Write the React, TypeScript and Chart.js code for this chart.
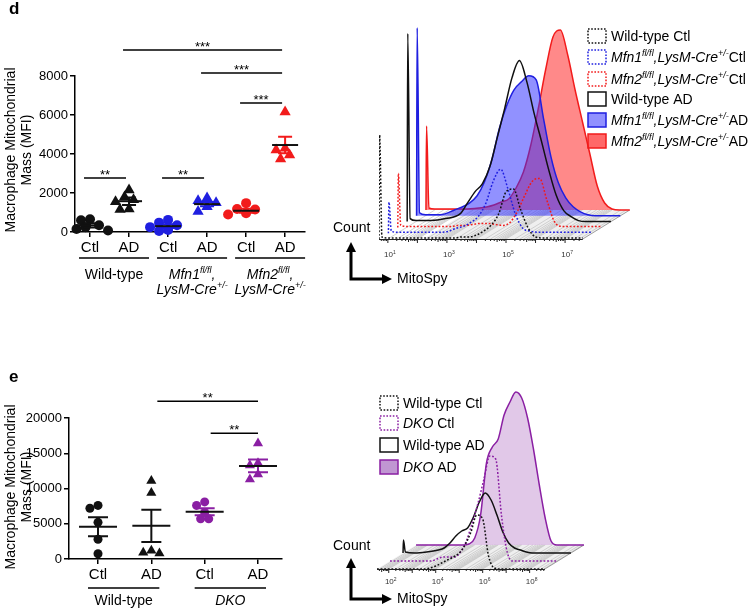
import { useEffect, useRef } from 'react';
import { Chart, registerables } from 'chart.js';
Chart.register(...registerables);

const FONT = '"Liberation Sans", Arial, Helvetica, sans-serif';
const BLACK = '#111111';
const BLUE = '#1f1fe0';
const RED = '#f21b1b';
const PURPLE = '#8a1fa3';

// ---------------- Panel d : scatter ----------------
const catsD = ['Ctl', 'AD', 'Ctl', 'AD', 'Ctl', 'AD'];
const wtCtlD = [650, 600, 350, 250, 150, 80];
const wtAdD = [2150, 1800, 1650, 1550, 1180, 1150];
const mfn1CtlD = [620, 480, 350, 250, 100, 50];
const mfn1AdD = [1750, 1600, 1500, 1300, 1050];
const mfn2CtlD = [1480, 1180, 1150, 960, 900];
const mfn2AdD = [6150, 4300, 4200, 3950, 3740];
const meanD = [340, 1580, 300, 1430, 1090, 4460];
const semD = [110, 190, 100, 110, 100, 420];
const yTicksD = [0, 2000, 4000, 6000, 8000];
const sigD: [number, number, number, string][] = [
  [1, 5, 9330, '***'],
  [3, 5, 8150, '***'],
  [4, 5, 6620, '***'],
  [0, 1, 2770, '**'],
  [2, 3, 2770, '**'],
];

// ---------------- Panel e : scatter ----------------
const catsE = ['Ctl', 'AD', 'Ctl', 'AD'];
const wtCtlE = [7600, 7200, 5200, 2800, 750];
const wtAdE = [11100, 9400, 1200, 800, 900];
const dkoCtlE = [8100, 7600, 6600, 5700, 5700];
const dkoAdE = [16400, 13600, 13300, 12000, 11300];
const meanE = [4560, 4700, 6700, 13200];
const semE = [1350, 2300, 500, 900];
const yTicksE = [0, 5000, 10000, 15000, 20000];
const sigE: [number, number, number, string][] = [
  [1, 3, 22360, '**'],
  [2, 3, 17840, '**'],
];

// ---------------- Panel d : histograms (log10 MitoSpy bins, counts in a.u.) ----------------
const binsD = [0.7, 0.72, 0.8, 1.0, 1.5, 2.0, 2.5, 2.75, 3.0, 3.25, 3.5, 3.75, 4.0, 4.25, 4.5, 4.75, 5.0, 5.25, 5.5, 5.75, 6.0, 6.25, 6.5, 6.75, 7.0, 7.25, 7.6];
const histWtCtlD = [0, 104, 2, 1, 1, 1, 1, 1, 1, 1, 2, 2, 4, 8, 14, 25, 47, 50, 29, 11, 2, 1, 1, 1, 1, 1, 1];
const histMfn1CtlD = [0, 31, 2, 1, 1, 1, 1, 2, 5, 7, 11, 17, 30, 52, 64, 44, 19, 5, 2, 1, 1, 1, 1, 1, 1, 1, 1];
const histMfn2CtlD = [0, 54, 2, 1, 1, 1, 1, 2, 2, 3, 4, 4, 3, 2, 5, 16, 32, 46, 49, 27, 6, 1, 1, 1, 1, 1, 1];
const histWtAdD = [0, 188, 3, 1, 1, 3, 8, 19, 30, 38, 55, 84, 113, 144, 161, 140, 108, 80, 51, 26, 11, 5, 1, 0, 0, 0, 0];
const histMfn1AdD = [0, 188, 3, 1, 1, 6, 13, 20, 34, 56, 87, 110, 126, 134, 140, 136, 97, 59, 33, 18, 9, 4, 1, 0, 0, 0, 0];
const histMfn2AdD = [0, 84, 2, 1, 1, 1, 2, 3, 5, 8, 11, 22, 38, 65, 101, 140, 173, 180, 155, 120, 88, 56, 24, 7, 1, 0, 0];
const decadesD = [1, 3, 5, 7];

// ---------------- Panel e : histograms ----------------
const binsE = [1.5, 1.52, 1.6, 2.0, 2.5, 3.0, 3.25, 3.5, 3.75, 4.0, 4.25, 4.5, 4.75, 5.0, 5.25, 5.5, 5.75, 6.0, 6.25, 6.5, 6.75, 7.0, 7.25, 7.5, 7.75, 8.0, 8.25, 8.65];
const histWtCtlE = [0, 0, 0, 0, 0, 0, 0, 0, 1, 3, 6, 9, 12, 16, 24, 37, 54, 50, 13, 1, 0, 0, 0, 0, 0, 0, 0, 0];
const histDkoCtlE = [0, 0, 0, 0, 0, 0, 0, 2, 4, 4, 4, 9, 20, 38, 58, 82, 105, 102, 45, 8, 0, 0, 0, 0, 0, 0, 0, 0];
const histWtAdE = [0, 13, 1, 0, 1, 3, 5, 10, 17, 22, 25, 36, 51, 60, 53, 38, 21, 10, 5, 3, 1, 0, 0, 0, 0, 0, 0, 0];
const histDkoAdE = [0, 0, 0, 0, 0, 0, 0, 0, 1, 7, 30, 82, 98, 106, 130, 143, 153, 147, 127, 96, 60, 27, 4, 0, 0, 0, 0, 0];
const decadesE = [2, 4, 6, 8];

type Seg = { t: string; it?: boolean; sup?: boolean; b?: boolean };

function segFont(s: Seg, size: number) {
  return `${s.it ? 'italic ' : ''}${s.b ? 'bold ' : ''}${s.sup ? Math.round(size * 0.64) : size}px ${FONT}`;
}
function drawSegs(ctx: CanvasRenderingContext2D, segs: Seg[], x: number, cy: number, size: number, align: 'left' | 'center' = 'left') {
  let w = 0;
  for (const s of segs) { ctx.font = segFont(s, size); w += ctx.measureText(s.t).width; }
  let cx = align === 'center' ? x - w / 2 : x;
  const base = cy + size * 0.36;
  ctx.textAlign = 'left';
  ctx.textBaseline = 'alphabetic';
  for (const s of segs) {
    ctx.font = segFont(s, size);
    ctx.fillText(s.t, cx, base + (s.sup ? -size * 0.42 : 0));
    cx += ctx.measureText(s.t).width;
  }
}

function swarm(vals: number[], pxY: number, r: number, pxX: number): number[] {
  const idx = vals.map((_, i) => i).sort((a, b) => vals[b] - vals[a]);
  const placed: [number, number][] = [];
  const off = new Array(vals.length).fill(0);
  const cands = [0, -1, 1, -2, 2, -3, 3, -4, 4];
  const stepPx = r * 0.9;
  const minD = r * 1.6;
  for (const i of idx) {
    const y = vals[i] * pxY;
    for (const c of cands) {
      const x = c * stepPx;
      if (placed.every(([px, py]) => (px - x) ** 2 + (py - y) ** 2 >= minD ** 2)) {
        placed.push([x, y]);
        off[i] = x / pxX;
        break;
      }
    }
  }
  return off;
}

interface ScatterCfg {
  cats: string[]; groups: number[][]; means: number[]; sems: number[];
  colors: string[]; shapes: string[]; yMax: number; yTicks: number[];
  xMin: number; xMax: number;
  area: { left: number; top: number; right: number; bottom: number };
  radius: number; tickFont: number; catFont: number;
  meanHalf: number; capHalf: number;
  sig: [number, number, number, string][]; sigPad: [number, number];
  groupLabels: { from: number; to: number; lines: Seg[][] }[];
  groupLineY: number; groupLabelY: number; groupExt: [number, number]; labelSize: number;
  titleLines: string[]; titleX: number[]; titleY: number;
  letter: string; letterPos: [number, number];
}

function makeScatter(canvas: HTMLCanvasElement, c: ScatterCfg) {
  const W = canvas.width, H = canvas.height;
  const chartW = c.area.right - c.area.left, chartH = c.area.bottom - c.area.top;
  const pxX = chartW / (c.xMax - c.xMin), pxY = chartH / c.yMax;
  const datasets = c.groups.map((vals, g) => {
    const off = swarm(vals, pxY, c.radius, pxX);
    return {
      data: vals.map((v, j) => ({ x: g + off[j], y: v })),
      pointStyle: c.shapes[g],
      pointRadius: c.shapes[g] === 'triangle' ? c.radius * 1.3 : c.radius,
      pointBackgroundColor: c.colors[g],
      pointBorderColor: c.colors[g],
      pointBorderWidth: 0,
      showLine: false,
      clip: false,
    };
  });
  const deco = {
    id: 'scatterDeco',
    afterDatasetsDraw(chart: any) {
      const ctx = chart.ctx as CanvasRenderingContext2D;
      const xs = chart.scales.x, ys = chart.scales.y;
      ctx.save();
      ctx.lineWidth = 2;
      c.means.forEach((m, g) => {
        const cx = xs.getPixelForValue(g);
        const my = ys.getPixelForValue(m);
        const t = ys.getPixelForValue(m + c.sems[g]);
        const b = ys.getPixelForValue(m - c.sems[g]);
        ctx.strokeStyle = c.colors[g];
        ctx.beginPath();
        ctx.moveTo(cx, t); ctx.lineTo(cx, b);
        ctx.moveTo(cx - c.capHalf, t); ctx.lineTo(cx + c.capHalf, t);
        ctx.moveTo(cx - c.capHalf, b); ctx.lineTo(cx + c.capHalf, b);
        ctx.stroke();
        ctx.strokeStyle = BLACK;
        ctx.beginPath();
        ctx.moveTo(cx - c.meanHalf, my); ctx.lineTo(cx + c.meanHalf, my);
        ctx.stroke();
      });
      ctx.restore();
    },
    afterDraw(chart: any) {
      const ctx = chart.ctx as CanvasRenderingContext2D;
      const xs = chart.scales.x, ys = chart.scales.y;
      ctx.save();
      ctx.fillStyle = '#000';
      ctx.strokeStyle = '#000';
      ctx.lineWidth = 1.5;
      c.sig.forEach(([a, b, v, lab]) => {
        const x1 = xs.getPixelForValue(a) + c.sigPad[0];
        const x2 = xs.getPixelForValue(b) + c.sigPad[1];
        const y = ys.getPixelForValue(v);
        ctx.beginPath(); ctx.moveTo(x1, y); ctx.lineTo(x2, y); ctx.stroke();
        ctx.font = `13px ${FONT}`;
        ctx.textAlign = 'center'; ctx.textBaseline = 'alphabetic';
        ctx.fillText(lab, (x1 + x2) / 2, y + 1);
      });
      c.groupLabels.forEach((gl) => {
        const x1 = xs.getPixelForValue(gl.from) + c.groupExt[0];
        const x2 = xs.getPixelForValue(gl.to) + c.groupExt[1];
        ctx.lineWidth = 1.5;
        ctx.beginPath(); ctx.moveTo(x1, c.groupLineY); ctx.lineTo(x2, c.groupLineY); ctx.stroke();
        gl.lines.forEach((ln, k) => drawSegs(ctx, ln, (x1 + x2) / 2, c.groupLabelY + k * 15, c.labelSize, 'center'));
      });
      c.titleLines.forEach((t, k) => {
        ctx.save();
        ctx.translate(c.titleX[k], c.titleY);
        ctx.rotate(-Math.PI / 2);
        ctx.font = `14px ${FONT}`;
        ctx.textAlign = 'center'; ctx.textBaseline = 'middle';
        ctx.fillText(t, 0, 0);
        ctx.restore();
      });
      ctx.font = `bold 17px ${FONT}`;
      ctx.textAlign = 'left'; ctx.textBaseline = 'middle';
      ctx.fillText(c.letter, c.letterPos[0], c.letterPos[1]);
      ctx.restore();
    },
  };
  return new Chart(canvas, {
    type: 'scatter',
    data: { datasets: datasets as any },
    options: {
      animation: false,
      responsive: false,
      devicePixelRatio: 1,
      layout: { padding: { left: 0, top: c.area.top, right: W - c.area.right, bottom: 0 } },
      plugins: { legend: { display: false }, tooltip: { enabled: false } },
      scales: {
        x: {
          type: 'linear', min: c.xMin, max: c.xMax,
          afterBuildTicks: (s: any) => { s.ticks = c.cats.map((_, i) => ({ value: i })); },
          afterFit: (s: any) => { s.height = H - c.area.bottom; },
          ticks: { autoSkip: false, maxRotation: 0, padding: 2, color: '#000', font: { family: FONT, size: c.catFont }, callback: (_v: any, i: number) => c.cats[i] },
          grid: { drawOnChartArea: false, drawTicks: true, tickLength: 5, color: '#000', lineWidth: 1.5 },
          border: { display: true, color: '#000', width: 1.5 },
        },
        y: {
          type: 'linear', min: 0, max: c.yMax,
          afterBuildTicks: (s: any) => { s.ticks = c.yTicks.map((v) => ({ value: v })); },
          afterFit: (s: any) => { s.width = c.area.left; },
          ticks: { padding: 2, color: '#000', font: { family: FONT, size: c.tickFont }, callback: (v: any) => String(v) },
          grid: { drawOnChartArea: false, drawTicks: true, tickLength: 5, color: '#000', lineWidth: 1.5 },
          border: { display: true, color: '#000', width: 1.5 },
        },
      },
    } as any,
    plugins: [deco],
  });
}

interface HistSeries { h: number[]; color: string; dash?: boolean; fill?: string; legendFill?: string; label: Seg[] }
interface HistCfg {
  bins: number[]; series: HistSeries[]; dx: number; dy: number;
  xMin: number; xMax: number; yMax: number;
  pad: { left: number; right: number; top: number; bottom: number };
  axisStart: number; axisEnd: number; floorStart: number; stripeStart: number;
  decades: number[]; labelDy: number;
  legendX: number; legendY: number[];
  countPos: [number, number]; corner: [number, number]; upTip: number; rightTip: number;
}

function makeHist(canvas: HTMLCanvasElement, c: HistCfg) {
  const n = c.series.length;
  const datasets = c.series.map((s, i) => ({
    data: c.bins.map((b, k) => ({ x: b + i * c.dx, y: s.h[k] + i * c.dy })),
    borderColor: s.color,
    borderWidth: 1.5,
    borderDash: s.dash ? [1.8, 1.8] : [],
    backgroundColor: s.fill || 'rgba(0,0,0,0)',
    fill: s.fill ? { value: i * c.dy } : false,
    pointRadius: 0,
    cubicInterpolationMode: 'monotone',
    order: i,
  }));
  const floor = {
    id: 'floor',
    beforeDatasetsDraw(chart: any) {
      const ctx = chart.ctx as CanvasRenderingContext2D;
      const xs = chart.scales.x, ys = chart.scales.y;
      const Bx = (n - 1) * c.dx, By = (n - 1) * c.dy;
      const P = (v: number, h: number): [number, number] => [xs.getPixelForValue(v), ys.getPixelForValue(h)];
      ctx.save();
      ctx.fillStyle = '#efefef';
      ctx.beginPath();
      const p1 = P(c.floorStart, 0), p2 = P(c.axisEnd, 0), p3 = P(c.axisEnd + Bx, By), p4 = P(c.floorStart + Bx, By);
      ctx.moveTo(...p1); ctx.lineTo(...p2); ctx.lineTo(...p3); ctx.lineTo(...p4); ctx.closePath(); ctx.fill();
      ctx.strokeStyle = '#c6c6c6';
      ctx.lineWidth = 0.8;
      for (let d = Math.floor(c.axisStart); d <= Math.ceil(c.axisEnd); d++) {
        for (let k = 1; k <= 9; k++) {
          const t = d + Math.log10(k);
          if (t < c.stripeStart || t > c.axisEnd) continue;
          const a = P(t, 0), b = P(t + Bx, By);
          ctx.beginPath(); ctx.moveTo(...a); ctx.lineTo(...b); ctx.stroke();
        }
      }
      ctx.strokeStyle = '#888';
      ctx.beginPath(); ctx.moveTo(...p2); ctx.lineTo(...p3); ctx.stroke();
      ctx.strokeStyle = '#222';
      ctx.lineWidth = 1;
      const a0 = P(c.axisStart, 0), a1 = P(c.axisEnd, 0);
      ctx.beginPath(); ctx.moveTo(a0[0], a0[1] + 0.5); ctx.lineTo(a1[0], a1[1] + 0.5); ctx.stroke();
      for (let d = Math.floor(c.axisStart); d <= Math.ceil(c.axisEnd); d++) {
        for (let k = 1; k <= 9; k++) {
          const t = d + Math.log10(k);
          if (t < c.axisStart || t > c.axisEnd) continue;
          const p = P(t, 0);
          const len = k === 1 ? 4 : k === 5 ? 3 : 2;
          ctx.beginPath(); ctx.moveTo(p[0], p[1]); ctx.lineTo(p[0], p[1] + len); ctx.stroke();
        }
      }
      ctx.fillStyle = '#333';
      c.decades.forEach((d) => {
        const p = P(d, 0);
        drawSegs(ctx, [{ t: '10' }, { t: String(d), sup: true }], p[0] + 2, p[1] + c.labelDy, 8, 'center');
      });
      ctx.restore();
    },
    afterDraw(chart: any) {
      const ctx = chart.ctx as CanvasRenderingContext2D;
      ctx.save();
      c.series.forEach((s, i) => {
        const cy = c.legendY[i];
        const x = c.legendX;
        if (s.fill) { ctx.fillStyle = s.legendFill || s.fill; ctx.fillRect(x, cy - 7, 18, 14); }
        ctx.strokeStyle = s.color;
        ctx.lineWidth = 1.5;
        ctx.setLineDash(s.dash ? [1.6, 1.6] : []);
        ctx.strokeRect(x, cy - 7, 18, 14);
        ctx.setLineDash([]);
        ctx.fillStyle = '#000';
        drawSegs(ctx, s.label, x + 23, cy, 14);
      });
      ctx.fillStyle = '#000';
      ctx.strokeStyle = '#000';
      ctx.font = `14px ${FONT}`;
      ctx.textAlign = 'left'; ctx.textBaseline = 'middle';
      ctx.fillText('Count', c.countPos[0], c.countPos[1]);
      const [cx, cy] = c.corner;
      ctx.lineWidth = 3;
      ctx.beginPath();
      ctx.moveTo(cx, c.upTip + 8); ctx.lineTo(cx, cy); ctx.lineTo(c.rightTip - 8, cy);
      ctx.stroke();
      ctx.beginPath();
      ctx.moveTo(cx, c.upTip); ctx.lineTo(cx - 5, c.upTip + 10); ctx.lineTo(cx + 5, c.upTip + 10); ctx.closePath(); ctx.fill();
      ctx.beginPath();
      ctx.moveTo(c.rightTip, cy); ctx.lineTo(c.rightTip - 10, cy - 5); ctx.lineTo(c.rightTip - 10, cy + 5); ctx.closePath(); ctx.fill();
      ctx.fillText('MitoSpy', c.rightTip + 5, cy);
      ctx.restore();
    },
  };
  return new Chart(canvas, {
    type: 'line',
    data: { datasets: datasets as any },
    options: {
      animation: false,
      responsive: false,
      devicePixelRatio: 1,
      layout: { padding: c.pad },
      plugins: { legend: { display: false }, tooltip: { enabled: false } },
      scales: {
        x: { type: 'linear', display: false, min: c.xMin, max: c.xMax },
        y: { type: 'linear', display: false, min: 0, max: c.yMax },
      },
    } as any,
    plugins: [floor],
  });
}

const mfnLabel = (num: string, tail: string): Seg[] => [
  { t: `Mfn${num}`, it: true }, { t: 'fl/fl', it: true, sup: true }, { t: ',LysM-Cre', it: true }, { t: '+/-', it: true, sup: true }, { t: tail },
];

const cfgD: ScatterCfg = {
  cats: catsD,
  groups: [wtCtlD, wtAdD, mfn1CtlD, mfn1AdD, mfn2CtlD, mfn2AdD],
  means: meanD, sems: semD,
  colors: [BLACK, BLACK, BLUE, BLUE, RED, RED],
  shapes: ['circle', 'triangle', 'circle', 'triangle', 'circle', 'triangle'],
  yMax: 8000, yTicks: yTicksD,
  xMin: -0.385, xMax: 5.51,
  area: { left: 75, top: 76, right: 305, bottom: 232 },
  radius: 5, tickFont: 13, catFont: 15, meanHalf: 13, capHalf: 7,
  sig: sigD, sigPad: [-6, -3],
  groupLabels: [
    { from: 0, to: 1, lines: [[{ t: 'Wild-type' }]] },
    { from: 2, to: 3, lines: [[{ t: 'Mfn1', it: true }, { t: 'fl/fl', it: true, sup: true }, { t: ',', it: true }], [{ t: 'LysM-Cre', it: true }, { t: '+/-', it: true, sup: true }]] },
    { from: 4, to: 5, lines: [[{ t: 'Mfn2', it: true }, { t: 'fl/fl', it: true, sup: true }, { t: ',', it: true }], [{ t: 'LysM-Cre', it: true }, { t: '+/-', it: true, sup: true }]] },
  ],
  groupLineY: 258, groupLabelY: 274, groupExt: [-11, 20], labelSize: 14,
  titleLines: ['Macrophage Mitochondrial', 'Mass (MFI)'], titleX: [11, 27], titleY: 150,
  letter: 'd', letterPos: [9, 9],
};

const cfgE: ScatterCfg = {
  cats: catsE,
  groups: [wtCtlE, wtAdE, dkoCtlE, dkoAdE],
  means: meanE, sems: semE,
  colors: [BLACK, BLACK, PURPLE, PURPLE],
  shapes: ['circle', 'triangle', 'circle', 'triangle'],
  yMax: 20000, yTicks: yTicksE,
  xMin: -0.544, xMax: 3.45,
  area: { left: 69, top: 58, right: 282, bottom: 199 },
  radius: 4.5, tickFont: 13, catFont: 15, meanHalf: 19, capHalf: 10,
  sig: sigE, sigPad: [6, 0],
  groupLabels: [
    { from: 0, to: 1, lines: [[{ t: 'Wild-type' }]] },
    { from: 2, to: 3, lines: [[{ t: 'DKO', it: true }]] },
  ],
  groupLineY: 228, groupLabelY: 240, groupExt: [-10, 8], labelSize: 14,
  titleLines: ['Macrophage Mitochondrial', 'Mass (MFI)'], titleX: [11, 27], titleY: 127,
  letter: 'e', letterPos: [9, 17],
};

const histCfgD: HistCfg = {
  bins: binsD,
  series: [
    { h: histWtCtlD, color: BLACK, dash: true, label: [{ t: 'Wild-type Ctl' }] },
    { h: histMfn1CtlD, color: BLUE, dash: true, label: mfnLabel('1', 'Ctl') },
    { h: histMfn2CtlD, color: RED, dash: true, label: mfnLabel('2', 'Ctl') },
    { h: histWtAdD, color: BLACK, label: [{ t: 'Wild-type AD' }] },
    { h: histMfn1AdD, color: BLUE, fill: 'rgba(45,45,255,0.52)', label: mfnLabel('1', 'AD') },
    { h: histMfn2AdD, color: RED, fill: 'rgba(255,40,40,0.55)', legendFill: 'rgba(255,40,40,0.7)', label: mfnLabel('2', 'AD') },
  ],
  dx: 0.318, dy: 5.8,
  xMin: 0.7, xMax: 9.3, yMax: 215,
  pad: { left: 69, right: 117, top: 24, bottom: 71 },
  axisStart: 0.7, axisEnd: 7.6, floorStart: 2.2, stripeStart: 1.0,
  decades: decadesD, labelDy: 15,
  legendX: 278, legendY: [36, 57, 79, 99, 120, 141],
  countPos: [23, 228], corner: [41, 279], upTip: 242, rightTip: 82,
};

const histCfgE: HistCfg = {
  bins: binsE,
  series: [
    { h: histWtCtlE, color: BLACK, dash: true, label: [{ t: 'Wild-type Ctl' }] },
    { h: histDkoCtlE, color: PURPLE, dash: true, label: [{ t: 'DKO', it: true }, { t: ' Ctl' }] },
    { h: histWtAdE, color: BLACK, label: [{ t: 'Wild-type AD' }] },
    { h: histDkoAdE, color: PURPLE, fill: 'rgba(175,110,195,0.38)', legendFill: 'rgba(150,80,180,0.6)', label: [{ t: 'DKO', it: true }, { t: ' AD' }] },
  ],
  dx: 0.554, dy: 8,
  xMin: 1.5, xMax: 10.4, yMax: 186,
  pad: { left: 67, right: 164, top: 23, bottom: 42 },
  axisStart: 1.5, axisEnd: 8.65, floorStart: 1.5, stripeStart: 1.5,
  decades: decadesE, labelDy: 12,
  legendX: 70, legendY: [43, 63, 85, 107],
  countPos: [23, 186], corner: [41, 239], upTip: 198, rightTip: 82,
};

export default function App() {
  const r1 = useRef<HTMLCanvasElement>(null);
  const r2 = useRef<HTMLCanvasElement>(null);
  const r3 = useRef<HTMLCanvasElement>(null);
  const r4 = useRef<HTMLCanvasElement>(null);
  useEffect(() => {
    const charts = [
      makeScatter(r1.current!, cfgD),
      makeHist(r2.current!, histCfgD),
      makeScatter(r3.current!, cfgE),
      makeHist(r4.current!, histCfgE),
    ];
    return () => charts.forEach((ch) => ch.destroy());
  }, []);
  const abs = (l: number, t: number, w: number, h: number) => ({ position: 'absolute' as const, left: l, top: t, width: w, height: h });
  return (
    <div style={{ position: 'absolute', left: 0, top: 0, width: 750, height: 611, background: '#fff', overflow: 'hidden' }}>
      <canvas ref={r1} width={360} height={310} style={abs(0, 0, 360, 310)} />
      <canvas ref={r2} width={440} height={310} style={abs(310, 0, 440, 310)} />
      <canvas ref={r3} width={360} height={251} style={abs(0, 360, 360, 251)} />
      <canvas ref={r4} width={440} height={251} style={abs(310, 360, 440, 251)} />
    </div>
  );
}
